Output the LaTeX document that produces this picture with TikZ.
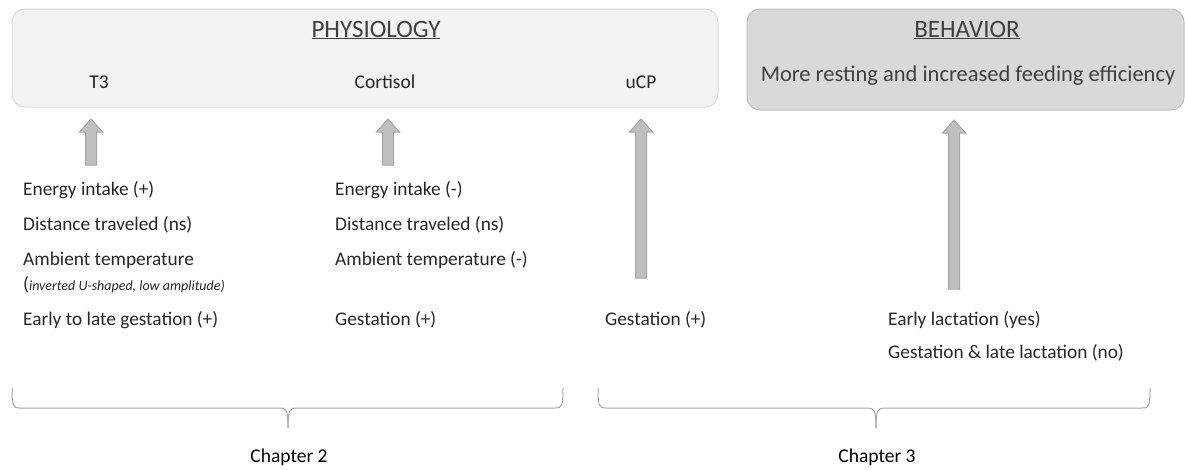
\documentclass[tikz,border=0pt]{standalone}
\usepackage{fontspec}
\setmainfont{Carlito}
\usetikzlibrary{calc}
\definecolor{txt}{HTML}{262626}
\definecolor{ttl}{HTML}{404040}
\definecolor{physfill}{HTML}{F2F2F2}
\definecolor{physline}{HTML}{D9D9D9}
\definecolor{behfill}{HTML}{D9D9D9}
\definecolor{behline}{HTML}{BFBFBF}
\definecolor{arrfill}{HTML}{BFBFBF}
\definecolor{arrline}{HTML}{A6A6A6}
\definecolor{brline}{HTML}{A6A6A6}
\tikzset{
  lbl/.style={anchor=west, inner sep=0pt, text=txt, font=\fontsize{19.3}{21}\selectfont},
  hdr/.style={inner sep=0pt, text=ttl, font=\fontsize{25}{27}\selectfont},
  big/.style={inner sep=0pt, text=ttl, font=\fontsize{22.5}{24}\selectfont},
  sub/.style={inner sep=0pt, text=txt, font=\fontsize{19.5}{21}\selectfont},
  chap/.style={inner sep=0pt, text=black, font=\fontsize{19.5}{21}\selectfont},
  barrow/.style={fill=arrfill, draw=arrline, line width=1pt, line join=miter},
  brace/.style={draw=brline, line width=1pt},
}
\newcommand\blockarrow[2]{%
  \draw[barrow] ($(#2)+(-5.5,0)$) -- ($(#1)+(-5.5,13)$) -- ($(#1)+(-11.5,13)$) -- (#1)
    -- ($(#1)+(11.5,13)$) -- ($(#1)+(5.5,13)$) -- ($(#2)+(5.5,0)$) -- cycle;}
\begin{document}
\begin{tikzpicture}[x=1pt,y=-1pt]
\useasboundingbox (0,0) rectangle (1185,469);
% boxes
\draw[fill=physfill, draw=physline, line width=1pt, rounded corners=13pt] (12,9) rectangle (718,107);
\draw[fill=behfill, draw=behline, line width=1pt, rounded corners=13pt] (747,9) rectangle (1184,110);
\node[hdr] (phys) at (376,30) {\underline{PHYSIOLOGY}};
\node[sub] (t3) at (99,82) {T3};
\node[sub] (cort) at (385,82) {Cortisol};
\node[sub] (ucp) at (641,82) {uCP};
\node[hdr] (beh) at (967,30) {\underline{BEHAVIOR}};
\node[big] (behtxt) at (968,76) {More resting and increased feeding efficiency};
% arrows
\coordinate (a1t) at (91,119); \coordinate (a1b) at (91,165);
\coordinate (a2t) at (388,119); \coordinate (a2b) at (388,165);
\coordinate (a3t) at (641,119); \coordinate (a3b) at (641,278);
\coordinate (a4t) at (954,120); \coordinate (a4b) at (954,289);
\blockarrow{a1t}{a1b}
\blockarrow{a2t}{a2b}
\blockarrow{a3t}{a3b}
\blockarrow{a4t}{a4b}
% column 1
\node[lbl] (c1a) at (23,190) {Energy intake (+)};
\node[lbl] (c1b) at (23,225) {Distance traveled (ns)};
\node[lbl] (c1c) at (23,260) {Ambient temperature};
\node[lbl] (c1d) at (23,285) {(\fontsize{14}{16}\selectfont\itshape inverted U-shaped, low amplitude\/)};
\node[lbl] (c1e) at (23,320) {Early to late gestation (+)};
% column 2
\node[lbl] (c2a) at (335,190) {Energy intake (-)};
\node[lbl] (c2b) at (335,225) {Distance traveled (ns)};
\node[lbl] (c2c) at (335,260) {Ambient temperature (-)};
\node[lbl] (c2e) at (335,320) {Gestation (+)};
% column 3
\node[lbl] (c3e) at (605,320) {Gestation (+)};
% column 4
\node[lbl] (c4a) at (888,320) {Early lactation (yes)};
\node[lbl] (c4b) at (888,353) {Gestation \& late lactation (no)};
% braces
\draw[brace] (12,388) .. controls (12,406) and (13,408) .. (20,408) -- (280,408)
  .. controls (286,408) and (288,410) .. (288,428);
\draw[brace] (563,388) .. controls (563,406) and (562,408) .. (555,408) -- (296,408)
  .. controls (290,408) and (288,410) .. (288,428);
\draw[brace] (598,388) .. controls (598,406) and (599,408) .. (606,408) -- (868,408)
  .. controls (874,408) and (876,410) .. (876,428);
\draw[brace] (1150,388) .. controls (1150,406) and (1149,408) .. (1142,408) -- (884,408)
  .. controls (878,408) and (876,410) .. (876,428);
\node[chap] (ch2) at (289,457) {Chapter 2};
\node[chap] (ch3) at (877,457) {Chapter 3};
\end{tikzpicture}
\end{document}
